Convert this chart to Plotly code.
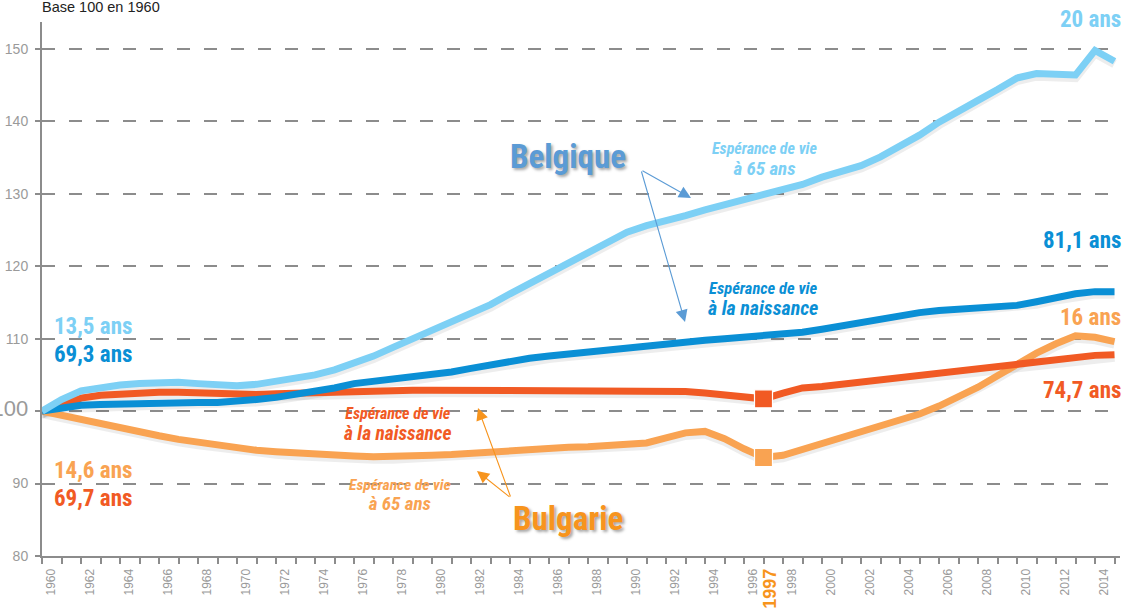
import plotly.graph_objects as go

# ---------------- data (base 100 en 1960) ----------------
years = list(range(1960, 2016))

bel_65 = [100.0, 101.6, 102.8, 103.3, 103.6, 103.8, 104.0, 104.0, 103.8, 103.6,
          103.5, 103.7, 104.1, 104.6, 105.0, 105.7, 106.6, 107.6, 108.8, 110.0,
          111.2, 112.3, 113.4, 114.7, 116.2, 117.6, 119.1, 120.4, 121.7, 123.2,
          124.7, 125.6, 126.2, 127.0, 127.8, 128.5, 129.1, 129.7, 130.4, 131.3,
          132.3, 133.0, 133.9, 135.1, 136.5, 138.1, 139.9, 141.5, 142.9, 144.4,
          146.0, 146.6, 146.6, 146.4, 149.8, 148.3]

bel_birth = [100.0, 100.5, 100.8, 100.9, 101.0, 101.1, 101.1, 101.1, 101.2, 101.2,
             101.3, 101.6, 101.9, 102.3, 102.7, 103.2, 103.8, 104.1, 104.4, 104.6,
             104.9, 105.4, 105.9, 106.4, 106.9, 107.3, 107.6, 107.9, 108.2, 108.5,
             108.8, 109.1, 109.4, 109.6, 109.8, 110.0, 110.2, 110.4, 110.6, 110.9,
             111.3, 111.8, 112.3, 112.8, 113.2, 113.6, 113.9, 114.1, 114.2, 114.4,
             114.6, 115.1, 115.7, 116.2, 116.5, 116.5]

bgr_birth = [100.0, 101.0, 101.8, 102.2, 102.4, 102.5, 102.6, 102.6, 102.5, 102.3,
             102.2, 102.3, 102.4, 102.5, 102.6, 102.7, 102.8, 102.9, 102.9, 102.9,
             102.9, 102.9, 102.9, 102.8, 102.8, 102.8, 102.8, 102.8, 102.8, 102.8,
             102.8, 102.9, 102.9, 102.7, 102.5, 102.2, 101.9, 101.7, 102.5, 103.2,
             103.4, 103.7, 104.0, 104.3, 104.6, 104.9, 105.2, 105.5, 105.8, 106.1,
             106.4, 106.7, 107.1, 107.5, 107.7, 107.8]

bgr_65 = [100.0, 99.4, 98.8, 98.2, 97.6, 97.1, 96.6, 96.1, 95.7, 95.3,
          94.9, 94.6, 94.4, 94.2, 94.0, 93.9, 93.8, 93.7, 93.7, 93.8,
          93.9, 94.0, 94.2, 94.4, 94.6, 94.8, 94.9, 95.0, 95.1, 95.2,
          95.3, 95.6, 96.3, 97.0, 97.2, 96.2, 94.8, 93.6, 93.9, 94.7,
          95.5, 96.2, 97.0, 97.8, 98.6, 99.6, 100.7, 102.0, 103.3, 104.9,
          106.5, 108.0, 109.3, 110.4, 110.2, 109.6]

highlight_year = 1997
label_years = list(range(1960, 2015, 2)) + [highlight_year]
y_ticks = [80, 90, 100, 110, 120, 130, 140, 150]

# ---------------- styles ----------------
C_BEL65 = "#7dd0f5"
C_BELB = "#0a8fd5"
C_BGRB = "#f15a24"
C_BGR65 = "#f9a352"
C_BEL_T = "#5b9bd5"
C_BGR_T = "#f7941d"
GRAY = "#8c8c8c"
NARROW = "Roboto Condensed, Liberation Sans Narrow, Liberation Sans, Arial, sans-serif"

W, H = 1123, 609
ML, MR, MT, MB = 42, 3, 22, 53
PX_PER_YEAR = 19.5
PX_PER_UNIT = 7.243
x_range = [1960, 1960 + (W - ML - MR) / PX_PER_YEAR]
y_range = [80, 80 + (H - MT - MB) / PX_PER_UNIT]


def P(px, py):
    """pixel -> paper coordinates"""
    return (px - ML) / (W - ML - MR), (H - MB - py) / (H - MT - MB)


fig = go.Figure()

series = [
    (bgr_65, C_BGR65),
    (bgr_birth, C_BGRB),
    (bel_birth, C_BELB),
    (bel_65, C_BEL65),
]
# soft shadows
for vals, col in series:
    fig.add_trace(go.Scatter(x=years, y=[v - 0.35 for v in vals], mode="lines",
                             line=dict(color="rgba(0,0,0,0.07)", width=9),
                             hoverinfo="skip", showlegend=False))
for vals, col in series:
    fig.add_trace(go.Scatter(x=years, y=vals, mode="lines",
                             line=dict(color=col, width=7),
                             hoverinfo="skip", showlegend=False))

i97 = years.index(highlight_year)
for vals, col in [(bgr_birth, C_BGRB), (bgr_65, C_BGR65)]:
    fig.add_trace(go.Scatter(x=[highlight_year], y=[vals[i97]], mode="markers",
                             marker=dict(symbol="square", size=18, color=col,
                                         line=dict(color="white", width=1.2)),
                             hoverinfo="skip", showlegend=False))

ann = []


def text(px, py, s, color, size, anchor="center", shadow=None, family=NARROW):
    x, y = P(px, py)
    font = dict(family=family, size=size, color=color)
    if shadow:
        font["shadow"] = shadow
    ann.append(dict(xref="paper", yref="paper", x=x, y=y, text=s, showarrow=False,
                    xanchor=anchor, yanchor="middle", font=font, align="center"))


def label2(px, py, line1, line2, color, size, size2):
    s = "<b><i>%s<br><span style='font-size:%gpx'>%s</span></i></b>" % (line1, size2, line2)
    text(px, py, s, color, size)


def arrow(tip, tail, color):
    x, y = P(*tip)
    ann.append(dict(xref="paper", yref="paper", x=x, y=y, text="", showarrow=True,
                    ax=tail[0] - tip[0], ay=tail[1] - tip[1],
                    arrowhead=2, arrowsize=2.2, arrowwidth=1.1, arrowcolor=color,
                    standoff=0, startstandoff=0))


# titles
text(568, 157, "<b>Belgique</b>", C_BEL_T, 33, shadow="2px 2px 3px rgba(0,0,0,0.35)")
text(568, 518, "<b>Bulgarie</b>", C_BGR_T, 33, shadow="2px 2px 3px rgba(0,0,0,0.35)")

# series labels
label2(764, 160, "Espérance de vie", "à 65 ans", C_BEL65, 16, 19)
label2(763, 300, "Espérance de vie", "à la naissance", C_BELB, 16.5, 20)
label2(398, 424, "Espérance de vie", "à la naissance", C_BGRB, 16, 19.5)
label2(400, 495, "Espérance de vie", "à 65 ans", C_BGR65, 15.5, 19)

# end values
text(1123, 20, "<b>20 ans</b>", C_BEL65, 23, anchor="right")
text(1123, 240, "<b>81,1 ans</b>", C_BELB, 23, anchor="right")
text(1123, 317, "<b>16 ans</b>", C_BGR65, 23, anchor="right")
text(1123, 390, "<b>74,7 ans</b>", C_BGRB, 23, anchor="right")
# start values
text(52, 326, "<b>13,5 ans</b>", C_BEL65, 23, anchor="left")
text(52, 354, "<b>69,3 ans</b>", C_BELB, 23, anchor="left")
text(52, 471, "<b>14,6 ans</b>", C_BGR65, 23, anchor="left")
text(52, 498, "<b>69,7 ans</b>", C_BGRB, 23, anchor="left")

# arrows
arrow((691, 198), (641, 170), C_BEL_T)
arrow((685, 322), (641, 170), C_BEL_T)
arrow((478, 408), (511, 498), C_BGR_T)
arrow((477, 471), (511, 498), C_BGR_T)

# header
ann.append(dict(xref="paper", yref="paper", x=P(40, 0)[0], y=P(0, 7)[1], text="Base 100 en 1960",
                showarrow=False, xanchor="left", yanchor="middle",
                font=dict(family="Liberation Sans, Arial, sans-serif", size=14.5, color="#222")))

tick_text = []
for yv in label_years:
    if yv == highlight_year:
        tick_text.append("<b><span style='color:%s;font-size:18px'>%d</span></b>" % (C_BGR_T, yv))
    else:
        tick_text.append(str(yv))

y_text = ["<span style='font-size:22px'>100</span>" if v == 100 else str(v) for v in y_ticks]

fig.update_layout(
    width=W, height=H,
    margin=dict(l=ML, r=MR, t=MT, b=MB),
    paper_bgcolor="white", plot_bgcolor="white",
    showlegend=False, hovermode=False,
    annotations=ann,
    font=dict(family="Liberation Sans, Arial, sans-serif", color="#999"),
    xaxis=dict(range=x_range, showgrid=False, zeroline=False, automargin=False,
               showline=True, linecolor=GRAY, linewidth=2,
               tickmode="array", tickvals=[yv + 0.45 for yv in label_years], ticktext=tick_text,
               tickangle=-90, ticks="outside", ticklen=6, tickcolor="rgba(0,0,0,0)",
               tickfont=dict(size=12, color="#9a9a9a"),
               minor=dict(tick0=1960, dtick=1, ticks="outside", ticklen=6, tickcolor=GRAY, tickwidth=1.5)),
    yaxis=dict(range=y_range, tickmode="array", tickvals=y_ticks, ticktext=y_text, automargin=False,
               showgrid=True, gridcolor=GRAY, gridwidth=1.5, griddash="13px,14px",
               zeroline=False, showline=True, linecolor=GRAY, linewidth=2,
               ticks="outside", ticklen=5, tickcolor=GRAY, tickwidth=1.5,
               ticklabelstandoff=4,
               tickfont=dict(size=14, color="#9a9a9a")),
)

fig.write_html("out.html", config={"displayModeBar": False},
               post_script="document.body.style.margin='0';")
